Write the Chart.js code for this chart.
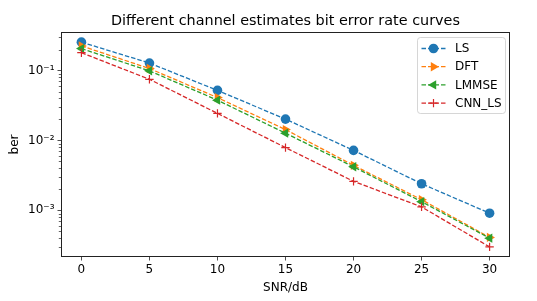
<!DOCTYPE html>
<html>
<head>
<meta charset="utf-8">
<script src="https://cdn.jsdelivr.net/npm/chart.js@4.4.1/dist/chart.umd.min.js"></script>
<style>
  html, body { margin: 0; padding: 0; background: #fff; }
  #wrap { width: 537px; height: 301px; }
</style>
</head>
<body>
<div id="wrap"><canvas id="berChart" width="537" height="301"></canvas></div>
<script>
// Datos
const snr = [0, 5, 10, 15, 20, 25, 30];
const berLS = [0.255, 0.128, 0.052, 0.0202, 0.0072, 0.0024, 0.00091];
const berDFT = [0.225, 0.107, 0.041, 0.0143, 0.0044, 0.00142, 0.00041];
const berLMMSE = [0.206, 0.099, 0.0377, 0.0127, 0.0042, 0.00133, 0.0004];
const berCNN = [0.18, 0.075, 0.0244, 0.0079, 0.0026, 0.00112, 0.0003];
const seriesNames = ["LS", "DFT", "LMMSE", "CNN_LS"];
const xTicks = [0, 5, 10, 15, 20, 25, 30];
const yTicks = [1e-3, 1e-2, 1e-1];
const yTickLabels = ["10⁻³", "10⁻²", "10⁻¹"];
const titleText = "Different channel estimates bit error rate curves";

const FONT = "'DejaVu Sans', sans-serif";

function toPoints(arr) {
    return snr.map((x, i) => ({ x: x, y: arr[i] }));
}

function makeSet(label, data, color, style, rotation, radius, order) {
    return {
        label: label,
        data: toPoints(data),
        borderColor: color,
        backgroundColor: color,
        borderWidth: 1.3,
        borderDash: [4.5, 2],
        pointStyle: style,
        pointRotation: rotation,
        pointRadius: radius,
        pointBorderWidth: style === 'cross' ? 1.2 : 0,
        pointBorderColor: color,
        pointBackgroundColor: color,
        tension: 0,
        fill: false,
        order: order
    };
}

const datasets = [
    makeSet(seriesNames[0], berLS, '#1f77b4', 'circle', 0, 4.8, 4),
    makeSet(seriesNames[1], berDFT, '#ff7f0e', 'triangle', 90, 5.4, 3),
    makeSet(seriesNames[2], berLMMSE, '#2ca02c', 'triangle', -90, 5.4, 2),
    makeSet(seriesNames[3], berCNN, '#d62728', 'cross', 0, 4.2, 1)
];

// Marco, título, ticks menores y leyenda estilo matplotlib
const extras = {
    id: 'extras',
    afterDatasetsDraw(chart) {
        const ctx = chart.ctx;

        // leyenda
        const bx = 417.5, by = 37.5, bw = 88, bh = 76;
        ctx.save();
        ctx.setLineDash([]);
        ctx.fillStyle = 'rgba(255,255,255,0.8)';
        ctx.strokeStyle = 'rgba(204,204,204,0.8)';
        ctx.lineWidth = 1;
        ctx.beginPath();
        ctx.roundRect(bx, by, bw, bh, 3);
        ctx.fill();
        ctx.stroke();
        ctx.font = "12px " + FONT;
        ctx.textBaseline = 'middle';
        chart.data.datasets.forEach((ds, i) => {
            const yy = 48.5 + i * 18.2;
            ctx.strokeStyle = ds.borderColor;
            ctx.lineWidth = ds.borderWidth;
            ctx.setLineDash(ds.borderDash);
            ctx.beginPath();
            ctx.moveTo(421.5, yy);
            ctx.lineTo(445.5, yy);
            ctx.stroke();
            ctx.setLineDash([]);
            ctx.fillStyle = ds.pointBackgroundColor;
            ctx.strokeStyle = ds.pointBorderColor;
            ctx.lineWidth = ds.pointBorderWidth;
            Chart.helpers.drawPoint(ctx, {
                pointStyle: ds.pointStyle,
                rotation: ds.pointRotation,
                radius: ds.pointRadius,
                borderWidth: ds.pointBorderWidth
            }, 433.5, yy);
            ctx.fillStyle = '#000';
            ctx.fillText(ds.label, 455, yy + 0.5);
        });
        ctx.restore();
    },
    afterDraw(chart) {
        const ctx = chart.ctx;
        const a = chart.chartArea;
        const ys = chart.scales.y;
        ctx.save();
        // marco
        ctx.strokeStyle = '#222';
        ctx.lineWidth = 1;
        ctx.strokeRect(Math.round(a.left) + 0.5, Math.round(a.top) + 0.5,
            Math.round(a.right - a.left) - 1, Math.round(a.bottom - a.top) - 1);
        // ticks menores del eje log
        ctx.lineWidth = 0.7;
        for (let e = -5; e <= 1; e++) {
            for (let m = 2; m <= 9; m++) {
                const v = m * Math.pow(10, e);
                if (v < ys.min || v > ys.max) continue;
                const py = Math.round(ys.getPixelForValue(v)) + 0.5;
                ctx.beginPath();
                ctx.moveTo(a.left - 2.2, py);
                ctx.lineTo(a.left, py);
                ctx.stroke();
            }
        }
        // título
        ctx.fillStyle = '#000';
        ctx.font = "14.4px " + FONT;
        ctx.textAlign = 'center';
        ctx.textBaseline = 'alphabetic';
        ctx.fillText(titleText, (a.left + a.right) / 2, 24.5);
        ctx.restore();
    }
};

const chart = new Chart(document.getElementById('berChart').getContext('2d'), {
    type: 'line',
    data: { datasets: datasets },
    options: {
        responsive: false,
        animation: false,
        layout: { padding: { top: 32, right: 27, left: 0, bottom: 0 } },
        plugins: {
            legend: { display: false },
            title: { display: false },
            tooltip: { enabled: false }
        },
        scales: {
            x: {
                type: 'linear',
                min: -1.5,
                max: 31.5,
                afterBuildTicks: s => { s.ticks = xTicks.map(v => ({ value: v })); },
                afterFit: s => { s.height = 44; },
                grid: { drawOnChartArea: false, drawTicks: true, tickLength: 3.5, tickColor: '#222', tickWidth: 0.8 },
                border: { display: false },
                ticks: { color: '#000', font: { family: FONT, size: 12 }, padding: 2, maxRotation: 0 },
                title: { display: true, text: 'SNR/dB', color: '#000', font: { family: FONT, size: 12 }, padding: { top: 0, bottom: 6 } }
            },
            y: {
                type: 'logarithmic',
                min: 2.15e-4,
                max: 0.356,
                afterBuildTicks: s => { s.ticks = yTicks.map(v => ({ value: v, major: true })); },
                afterFit: s => { s.width = 61; },
                grid: { drawOnChartArea: false, drawTicks: true, tickLength: 3.5, tickColor: '#222', tickWidth: 0.8 },
                border: { display: false },
                ticks: {
                    color: '#000',
                    font: { family: FONT, size: 12 },
                    padding: 3,
                    callback: (v) => {
                        const i = yTicks.findIndex(t => Math.abs(t - v) / t < 1e-6);
                        return i >= 0 ? yTickLabels[i] : '';
                    }
                },
                title: { display: true, text: 'ber', color: '#000', font: { family: FONT, size: 12 }, padding: { top: 8, bottom: 0 } }
            }
        }
    },
    plugins: [extras]
});
</script>
</body>
</html>
